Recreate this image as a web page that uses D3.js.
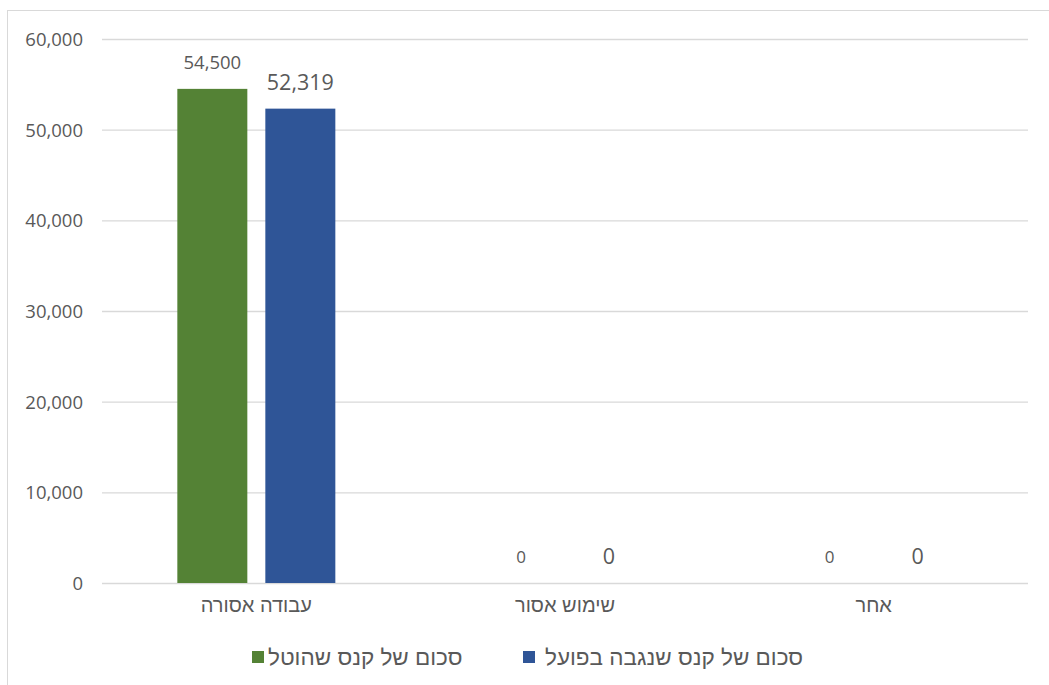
<!DOCTYPE html>
<html><head><meta charset="utf-8">
<script src="https://cdn.jsdelivr.net/npm/d3@7"></script>
<style>
html,body{margin:0;padding:0;background:#fff;}
text{font-family:"Open Sans","Liberation Sans","DejaVu Sans",sans-serif;fill:#595959;}
text.heb{font-family:"Liberation Sans","DejaVu Sans",sans-serif;}
</style></head>
<body>
<svg id="chart" width="1049" height="685"></svg>
<script>
const categories = ["עבודה אסורה", "שימוש אסור", "אחר"];
const seriesNames = ["סכום של קנס שהוטל", "סכום של קנס שנגבה בפועל"];
const imposed = [54500, 0, 0];
const collected = [52319, 0, 0];
const yTicks = [0, 10000, 20000, 30000, 40000, 50000, 60000];
const colors = ["#548235", "#2f5597"];

(function () {
const svg = d3.select("#chart");
svg.append("rect").attr("x", 7.5).attr("y", 10.5).attr("width", 1100).attr("height", 700)
  .attr("fill", "#fff").attr("stroke", "#d9d9d9").attr("stroke-width", 1);

const pl = 102, pr = 1028, pt = 39, pb = 583;
const x = d3.scaleBand().domain(categories).range([pl, pr]).paddingInner(0).paddingOuter(0);
const y = d3.scaleLinear().domain([0, 60000]).range([pb, pt]);

const yAxis = d3.axisLeft(y).tickValues(yTicks).tickSize(-(pr - pl)).tickFormat(d3.format(","));
const ga = svg.append("g").attr("transform", `translate(${pl},0)`).call(yAxis);
ga.select(".domain").remove();
ga.selectAll(".tick line").attr("stroke", "#d9d9d9").attr("stroke-width", 1.3);
ga.selectAll(".tick text").attr("x", -19).attr("dy", "0.35em").style("font-size", "18.5px").attr("fill", "#595959");

const xAxis = d3.axisBottom(x).tickSize(0);
const gx = svg.append("g").attr("transform", `translate(0,${pb})`).call(xAxis);
gx.select(".domain").remove();
gx.selectAll(".tick text").attr("class", "heb").attr("y", 22).attr("dy", "0.35em").style("font-size", "20px").attr("fill", "#595959");

const data = [imposed, collected];
const barW = 70, gap = 18;
data.forEach((vals, si) => {
  const off = si === 0 ? -(gap / 2 + barW) : gap / 2;
  const g = svg.append("g");
  g.selectAll("rect").data(vals).join("rect")
    .attr("x", (d, i) => x(categories[i]) + x.bandwidth() / 2 + off)
    .attr("width", barW)
    .attr("y", d => y(d))
    .attr("height", d => pb - y(d))
    .attr("fill", colors[si]);
  g.selectAll("text").data(vals).join("text")
    .attr("x", (d, i) => x(categories[i]) + x.bandwidth() / 2 + off + barW / 2)
    .attr("y", d => y(d) - (si === 0 ? 20 : 19))
    .attr("text-anchor", "middle")
    .style("font-size", d => si === 0 ? (d === 0 ? "17px" : "18.5px") : "21.5px")
    .text(d => d3.format(",")(d));
});

const legend = [
  {sx: 252, tx: 268, name: seriesNames[0], c: colors[0]},
  {sx: 523, tx: 545, name: seriesNames[1], c: colors[1]}
];
legend.forEach(l => {
  svg.append("rect").attr("x", l.sx).attr("y", 651).attr("width", 12).attr("height", 12).attr("fill", l.c);
  svg.append("text").attr("class", "heb").attr("x", l.tx).attr("y", 657).attr("dy", "0.35em")
    .attr("direction", "rtl").attr("text-anchor", "end")
    .style("font-size", "22.5px").text(l.name);
});
})();
</script>
</body></html>
